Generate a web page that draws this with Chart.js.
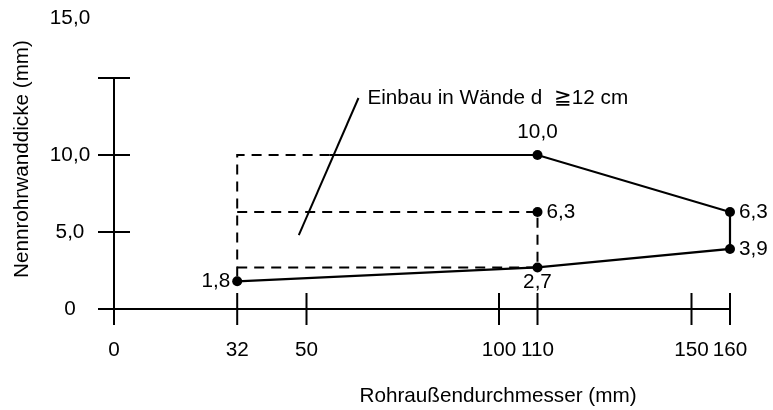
<!DOCTYPE html>
<html>
<head>
<meta charset="utf-8">
<script src="https://cdn.jsdelivr.net/npm/chart.js@4/dist/chart.umd.min.js"></script>
<style>
html,body{margin:0;padding:0;background:#fff;}
#wrap{width:773px;height:410px;}
</style>
</head>
<body>
<div id="wrap"><canvas id="c" width="773" height="410"></canvas></div>
<script>
// ---- data ----
const xTicks = [0, 32, 50, 100, 110, 150, 160];
const xTickLabels = ["0", "32", "50", "100", "110", "150", "160"];
const yTicks = [0, 5, 10, 15];
const yTickLabels = ["0", "5,0", "10,0", "15,0"];

// outer boundary (solid)
const boundaryX = [56, 110, 160, 160, 110, 32];
const boundaryY = [10, 10, 6.3, 3.9, 2.7, 1.8];
// dashed region (walls d >= 12 cm)
const dashAX = [56, 32, 32];
const dashAY = [10, 10, 1.8];
const dashBX = [32, 110, 110];
const dashBY = [6.3, 6.3, 2.7];
const dashCX = [32, 110];
const dashCY = [2.7, 2.7];
// marked points
const pointX = [32, 110, 110, 110, 160, 160];
const pointY = [1.8, 2.7, 6.3, 10, 6.3, 3.9];
const pointLabels = ["1,8", "2,7", "6,3", "10,0", "6,3", "3,9"];
const pointLabelPos = ["left", "below", "right", "above", "right", "right"];
// annotation leader
const leaderX = [48, 63.5];
const leaderY = [4.8, 13.7];
const annotationText = "Einbau in Wände d  \u226712 cm";

const xTitle = "Rohraußendurchmesser (mm)";
const yTitle = "Nennrohrwanddicke (mm)";

const zip = (xs, ys) => xs.map((x, i) => ({x: x, y: ys[i]}));
const FONT = '20.7px "Liberation Sans", Arial, sans-serif';

const lineDs = (xs, ys, dash, w) => ({
  data: zip(xs, ys), showLine: true, borderColor: '#000', borderWidth: w,
  borderDash: dash, pointRadius: 0, fill: false, tension: 0, clip: false
});

const axesPlugin = {
  id: 'axesPlugin',
  beforeDatasetsDraw(chart) {
    const ctx = chart.ctx, xs = chart.scales.x, ys = chart.scales.y;
    const x0 = xs.getPixelForValue(0), y0 = ys.getPixelForValue(0);
    const T = 16;
    ctx.save();
    ctx.strokeStyle = '#000';
    ctx.lineWidth = 2;
    ctx.beginPath();
    ctx.moveTo(x0 - T, y0); ctx.lineTo(xs.getPixelForValue(160), y0);
    ctx.moveTo(x0, ys.getPixelForValue(15)); ctx.lineTo(x0, y0 + T);
    xTicks.forEach(v => { const p = xs.getPixelForValue(v); ctx.moveTo(p, y0 - T); ctx.lineTo(p, y0 + T); });
    yTicks.forEach(v => { const p = ys.getPixelForValue(v); ctx.moveTo(x0 - T, p); ctx.lineTo(x0 + T, p); });
    ctx.stroke();
    ctx.fillStyle = '#000';
    ctx.font = FONT;
    ctx.textAlign = 'center'; ctx.textBaseline = 'middle';
    xTicks.forEach((v, i) => ctx.fillText(xTickLabels[i], xs.getPixelForValue(v), y0 + 41));
    yTicks.forEach((v, i) => {
      let py = ys.getPixelForValue(v);
      if (v === 15) py = 18;
      ctx.fillText(yTickLabels[i], 70, py);
    });
    ctx.fillText(xTitle, 498, 396);
    ctx.save();
    ctx.translate(22, 159); ctx.rotate(-Math.PI / 2);
    ctx.fillText(yTitle, 0, 0);
    ctx.restore();
    ctx.restore();
  },
  afterDatasetsDraw(chart) {
    const ctx = chart.ctx, xs = chart.scales.x, ys = chart.scales.y;
    ctx.save();
    ctx.fillStyle = '#000'; ctx.font = FONT; ctx.textBaseline = 'middle';
    pointX.forEach((vx, i) => {
      const px = xs.getPixelForValue(vx), py = ys.getPixelForValue(pointY[i]);
      const pos = pointLabelPos[i];
      if (pos === 'left') { ctx.textAlign = 'right'; ctx.fillText(pointLabels[i], px - 7, py); }
      else if (pos === 'right') { ctx.textAlign = 'left'; ctx.fillText(pointLabels[i], px + 9, py); }
      else if (pos === 'above') { ctx.textAlign = 'center'; ctx.fillText(pointLabels[i], px, py - 23); }
      else { ctx.textAlign = 'center'; ctx.fillText(pointLabels[i], px, py + 15); }
    });
    ctx.textAlign = 'left';
    ctx.fillText(annotationText, xs.getPixelForValue(leaderX[1]) + 9, ys.getPixelForValue(leaderY[1]));
    ctx.restore();
  }
};

new Chart(document.getElementById('c'), {
  type: 'scatter',
  data: {
    datasets: [
      lineDs(boundaryX, boundaryY, [], 2.2),
      lineDs(dashAX, dashAY, [10, 7], 2),
      lineDs(dashBX, dashBY, [10, 7], 2),
      lineDs(dashCX, dashCY, [10, 7], 2),
      lineDs(leaderX, leaderY, [], 2),
      { data: zip(pointX, pointY), showLine: false, pointRadius: 5, pointBackgroundColor: '#000',
        pointBorderColor: '#000', pointBorderWidth: 0, clip: false }
    ]
  },
  options: {
    responsive: false, animation: false, devicePixelRatio: 1,
    layout: { padding: { left: 114, right: 43, top: 78, bottom: 101 } },
    plugins: { legend: { display: false }, tooltip: { enabled: false }, title: { display: false } },
    scales: {
      x: { type: 'linear', min: 0, max: 160, display: false },
      y: { type: 'linear', min: 0, max: 15, display: false }
    }
  },
  plugins: [axesPlugin]
});
</script>
</body>
</html>
